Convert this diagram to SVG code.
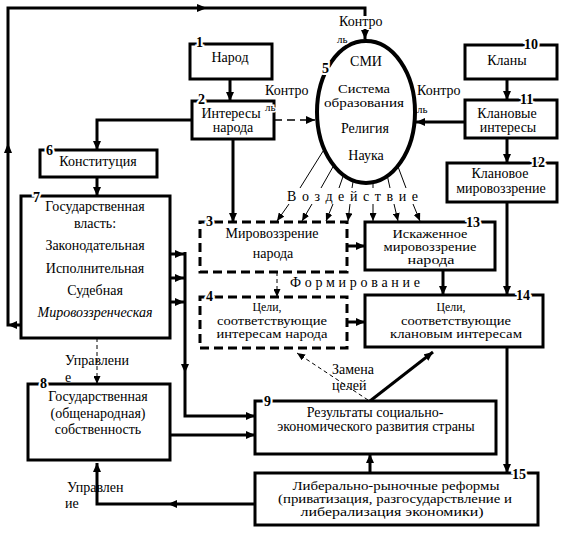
<svg xmlns="http://www.w3.org/2000/svg" width="563" height="533" viewBox="0 0 563 533">
<style>
.box{fill:#fff;stroke:#000;stroke-width:3}
.dbox{fill:none;stroke:#000;stroke-width:3;stroke-dasharray:9 5}
.t{font-family:"Liberation Serif","Times New Roman",serif;font-size:14px;text-anchor:middle;fill:#000}
.u{font-family:"Liberation Serif","Times New Roman",serif;font-size:12px;text-anchor:middle;fill:#000}
.l{font-family:"Liberation Serif","Times New Roman",serif;font-size:14px;fill:#000}
.s{font-family:"Liberation Serif","Times New Roman",serif;font-size:11px;fill:#000;stroke:#fff;stroke-width:3;paint-order:stroke}
.n{font-family:"Liberation Serif","Times New Roman",serif;font-size:14px;font-weight:bold;fill:#000;stroke:#fff;stroke-width:4;paint-order:stroke}
.c{fill:none;stroke:#000;stroke-width:3}
.th{fill:none;stroke:#000;stroke-width:1}
.dd{fill:none;stroke:#000;stroke-width:1;stroke-dasharray:4 3}
.dm{fill:none;stroke:#000;stroke-width:1.5;stroke-dasharray:8 5}
</style>
<defs>
<marker id="a" markerWidth="9" markerHeight="8" refX="9" refY="4" orient="auto" markerUnits="userSpaceOnUse"><path d="M0,0L9,4L0,8z"/></marker>
<marker id="b" markerWidth="8" markerHeight="7" refX="8" refY="3.5" orient="auto" markerUnits="userSpaceOnUse"><path d="M0,0L8,3.5L0,7z"/></marker>
</defs>
<rect width="563" height="533" fill="#fff"/>
<g id="connectors">
<path class="c" d="M21,325L8,325L8,8L365,8L365,16"/>
<polygon points="8,143 4,153 12,153"/>
<polygon points="207,8 197,4 197,12"/>
<polygon points="8,325 17,321 17,329"/>
<path class="c" d="M365,29L365,39" marker-end="url(#a)"/>
<path class="c" d="M230,79L230,101" marker-end="url(#a)"/>
<path class="c" d="M192,120L97,120L97,150" marker-end="url(#a)"/>
<path class="c" d="M97,177L97,196" marker-end="url(#a)"/>
<path class="c" d="M233,139L233,222" marker-end="url(#a)"/>
<path class="dm" d="M274,120L315,120" marker-end="url(#a)"/>
<path class="c" d="M507,79L507,100" marker-end="url(#a)"/>
<path class="c" d="M507,138L507,163" marker-end="url(#a)"/>
<path class="c" d="M465,122L416,122" marker-end="url(#a)"/>
<path class="c" d="M507,202L507,295" marker-end="url(#a)"/>
<path class="c" d="M443,270L443,295" marker-end="url(#a)"/>
<path class="c" d="M507,347L507,473" marker-end="url(#a)"/>
<path class="c" d="M347,246L365,246" marker-end="url(#a)"/>
<path class="c" d="M347,322L365,322" marker-end="url(#a)"/>
<path class="dd" d="M277,272L277,297" marker-end="url(#b)"/>
<path class="c" d="M170,254L184,254" marker-end="url(#a)"/>
<path class="c" d="M170,278L184,278" marker-end="url(#a)"/>
<path class="c" d="M170,302L184,302" marker-end="url(#a)"/>
<path class="c" d="M185,252L185,416L255,416" marker-end="url(#a)"/>
<polygon points="185,373 181,364 189,364"/>
<path class="c" d="M170,435L255,435" marker-end="url(#a)"/>
<path class="dd" d="M97,338L97,384" marker-end="url(#b)"/>
<path class="c" d="M255,504L97,504L97,463" marker-end="url(#a)"/>
<polygon points="168,504 177,500 177,508"/>
<path class="c" d="M370,473L370,454" marker-end="url(#a)"/>
<path class="c" d="M370,401L433,352" marker-end="url(#a)"/>
<path class="dd" d="M368,400L297,353" marker-end="url(#b)"/>
<path class="th" d="M330,140L300,188M338,158L321,188M346,168L339,188M354,176L352,188M373,176L373,188M386,170L390,188M394,156L406,188"/>
<path class="th" d="M289,204L277,221" marker-end="url(#b)"/>
<path class="th" d="M312,204L302,221" marker-end="url(#b)"/>
<path class="th" d="M333,204L326,221" marker-end="url(#b)"/>
<path class="th" d="M350,204L348,221" marker-end="url(#b)"/>
<path class="th" d="M373,204L373,221" marker-end="url(#b)"/>
<path class="th" d="M394,204L398,221" marker-end="url(#b)"/>
<path class="th" d="M413,204L420,221" marker-end="url(#b)"/>
</g>
<g id="labels">
<text class="l" x="339" y="26">Контро</text>
<text class="l" x="265" y="95">Контро</text>
<text class="l" x="417" y="95">Контро</text>
<text class="s" x="417" y="113">ль</text>
<text class="l" x="287" y="201" textLength="131" lengthAdjust="spacing">Воздействие</text>
<text class="l" x="290" y="287" textLength="130" lengthAdjust="spacing">Формирование</text>
<text class="l" x="65" y="365">Управлени</text>
<text class="l" x="65" y="382">е</text>
<text class="l" x="67" y="492">Управлен</text>
<text class="l" x="65" y="508">ие</text>
<text class="l" x="332" y="374">Замена</text>
<text class="l" x="332" y="390">целей</text>
</g>
<g id="n5">
<ellipse cx="366" cy="112" rx="49" ry="71" fill="#fff" stroke="#000" stroke-width="4"/>
<text class="n" x="322" y="73">5</text>
<text class="s" x="337" y="43">ль</text>
<text class="t" x="366" y="66">СМИ</text>
<text class="u" x="364" y="93" textLength="52" lengthAdjust="spacingAndGlyphs">Система</text>
<text class="u" x="364" y="107" textLength="80" lengthAdjust="spacingAndGlyphs">образования</text>
<text class="t" x="365" y="133">Религия</text>
<text class="t" x="366" y="160">Наука</text>
</g>
<g id="n1"><rect class="box" x="190" y="44" width="82" height="35"/><text class="n" x="196" y="47">1</text><text class="t" x="230" y="62">Народ</text></g>
<g id="n2"><rect class="box" x="192" y="101" width="82" height="38"/><text class="n" x="198" y="104">2</text><text class="t" x="231" y="118">Интересы</text><text class="t" x="233" y="132">народа</text><text class="s" x="265" y="111">ль</text></g>
<g id="n6"><rect class="box" x="40" y="150" width="117" height="27"/><text class="n" x="46" y="155">6</text><text class="t" x="98" y="166">Конституция</text></g>
<g id="n7"><rect class="box" x="21" y="196" width="149" height="142"/><text class="n" x="33" y="202">7</text>
<text class="t" x="95" y="211">Государственная</text><text class="t" x="95" y="228">власть:</text><text class="t" x="95" y="250">Законодательная</text><text class="t" x="95" y="273">Исполнительная</text><text class="t" x="95" y="295">Судебная</text><text class="t" x="95" y="317" font-style="italic">Мировоззренческая</text></g>
<g id="n8"><rect class="box" x="28" y="384" width="142" height="76"/><text class="n" x="40" y="388">8</text>
<text class="t" x="98" y="401">Государственная</text><text class="t" x="98" y="418">(общенародная)</text><text class="t" x="98" y="434">собственность</text></g>
<g id="n9"><rect class="box" x="255" y="401" width="241" height="53"/><text class="n" x="264" y="406">9</text>
<text class="t" x="375" y="417">Результаты социально-</text><text class="t" x="376" y="431">экономического развития страны</text></g>
<g id="n3"><rect class="dbox" x="200" y="222" width="147" height="50"/><text class="n" x="206" y="226">3</text><text class="t" x="272" y="238">Мировоззрение</text><text class="t" x="273" y="258">народа</text></g>
<g id="n4"><rect class="dbox" x="200" y="297" width="147" height="51"/><text class="n" x="206" y="301">4</text><text class="u" x="267" y="311" textLength="29" lengthAdjust="spacingAndGlyphs">Цели,</text><text class="u" x="272" y="325" textLength="110" lengthAdjust="spacingAndGlyphs">соответствующие</text><text class="u" x="272" y="338" textLength="111" lengthAdjust="spacingAndGlyphs">интересам народа</text></g>
<g id="n10"><rect class="box" x="465" y="45" width="92" height="34"/><text class="n" x="524" y="49">10</text><text class="t" x="507" y="65">Кланы</text></g>
<g id="n11"><rect class="box" x="465" y="100" width="92" height="38"/><text class="n" x="520" y="104">11</text><text class="t" x="507" y="118">Клановые</text><text class="t" x="508" y="132">интересы</text></g>
<g id="n12"><rect class="box" x="447" y="163" width="110" height="39"/><text class="n" x="531" y="167">12</text><text class="t" x="500" y="178">Клановое</text><text class="t" x="501" y="193">мировоззрение</text></g>
<g id="n13"><rect class="box" x="365" y="222" width="130" height="48" stroke-width="4.5"/><text class="n" x="466" y="227">13</text><text class="u" x="430" y="238" textLength="75" lengthAdjust="spacingAndGlyphs">Искаженное</text><text class="u" x="430" y="251" textLength="93" lengthAdjust="spacingAndGlyphs">мировоззрение</text><text class="u" x="431" y="264" textLength="47" lengthAdjust="spacingAndGlyphs">народа</text></g>
<g id="n14"><rect class="box" x="365" y="295" width="178" height="52"/><text class="n" x="516" y="300">14</text><text class="u" x="451" y="311" textLength="29" lengthAdjust="spacingAndGlyphs">Цели,</text><text class="u" x="456" y="325" textLength="110" lengthAdjust="spacingAndGlyphs">соответствующие</text><text class="u" x="456" y="338" textLength="132" lengthAdjust="spacingAndGlyphs">клановым интересам</text></g>
<g id="n15"><rect class="box" x="255" y="473" width="283" height="52"/><text class="n" x="512" y="479">15</text><text class="u" x="396" y="490" textLength="207" lengthAdjust="spacingAndGlyphs">Либерально-рыночные реформы</text><text class="u" x="395" y="503" textLength="234" lengthAdjust="spacingAndGlyphs">(приватизация, разгосударствление и</text><text class="u" x="392" y="516" textLength="183" lengthAdjust="spacingAndGlyphs">либерализация экономики)</text></g>
</svg>
